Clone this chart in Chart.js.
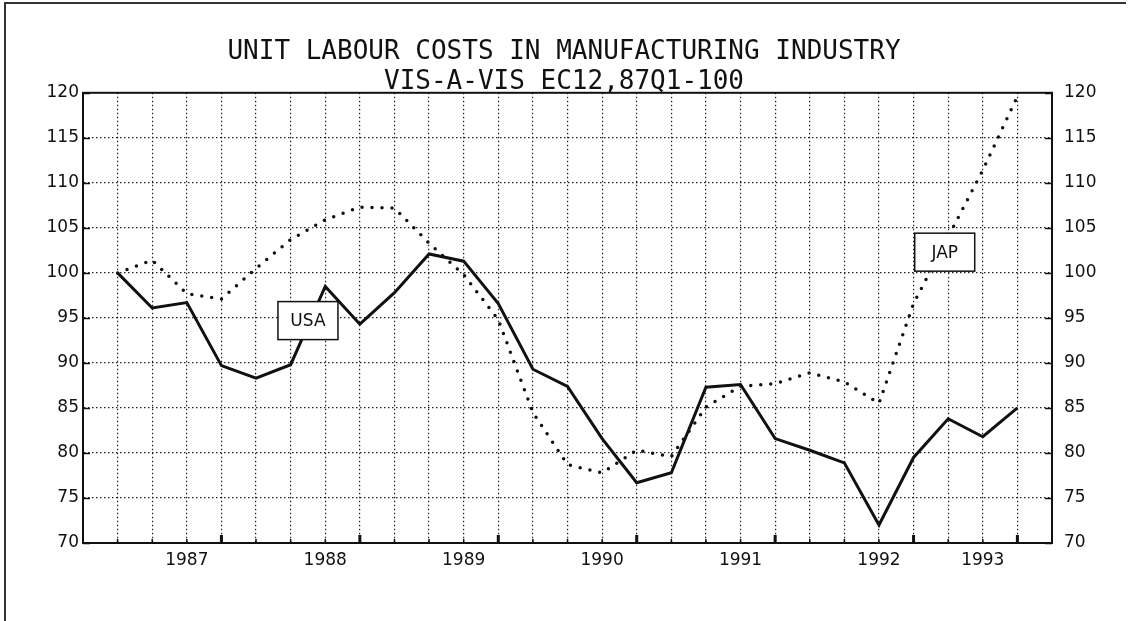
<!DOCTYPE html>
<html>
<head>
<meta charset="utf-8">
<script src="https://cdn.jsdelivr.net/npm/chart.js@4"></script>
<style>
  body { margin: 0; background: #fff; }
  #wrap { position: relative; width: 1128px; height: 621px; }
  .edge { position: absolute; background: #333; pointer-events: none; }
</style>
</head>
<body>
<div id="wrap">
  <canvas id="ulc"></canvas>
  <div class="edge" style="left:4px;top:2px;width:2px;height:619px;"></div>
  <div class="edge" style="left:4px;top:2px;width:1122px;height:2px;"></div>
</div>
<script>
// quarterly series, 87Q1 .. 93Q3 (87Q1 = 100)
const quarters = [
  "87Q1","87Q2","87Q3","87Q4","88Q1","88Q2","88Q3","88Q4",
  "89Q1","89Q2","89Q3","89Q4","90Q1","90Q2","90Q3","90Q4",
  "91Q1","91Q2","91Q3","91Q4","92Q1","92Q2","92Q3","92Q4",
  "93Q1","93Q2","93Q3"
];
const usa = [100.0, 96.1, 96.7, 89.7, 88.3, 89.8, 98.5, 94.3, 97.8, 102.1, 101.3, 96.6, 89.3, 87.4,
             81.6, 76.7, 77.8, 87.3, 87.6, 81.6, 80.3, 78.9, 72.0, 79.5, 83.8, 81.8, 85.0];
const jap = [100.0, 101.4, 97.7, 97.1, 100.5, 103.7, 105.9, 107.3, 107.2, 103.3, 99.8, 94.8, 84.5, 78.7,
             77.8, 80.3, 79.6, 85.1, 87.4, 87.7, 88.9, 87.9, 85.5, 96.6, 104.0, 111.4, 119.6];

// x axis: year labels and the heavy year ticks, given as quarter index
const yearLabels = ["1987", "1988", "1989", "1990", "1991", "1992", "1993"];
const yearLabelAt = [2, 6, 10, 14, 18, 22, 25];
const yearTickAt = [3, 7, 11, 15, 19, 23, 26];
const yTicks = [70, 75, 80, 85, 90, 95, 100, 105, 110, 115, 120];

// series tags (text, quarter index, value)
const tags = [
  { text: "USA", q: 5.5, v: 94.7 },
  { text: "JAP", q: 23.9, v: 102.3 }
];

const FONT = "'DejaVu Sans', sans-serif";

const extras = {
  id: "extras",
  afterDatasetsDraw(chart) {
    const ctx = chart.ctx;
    const a = chart.chartArea;
    const x = chart.scales.x, y = chart.scales.y;
    ctx.save();
    ctx.strokeStyle = "#111";
    ctx.setLineDash([]);

    // inward ticks on both value axes
    ctx.lineWidth = 1.5;
    yTicks.forEach(v => {
      const py = Math.round(y.getPixelForValue(v)) + 0.5;
      ctx.beginPath();
      ctx.moveTo(a.left, py); ctx.lineTo(a.left + 7, py);
      ctx.moveTo(a.right - 7, py); ctx.lineTo(a.right, py);
      ctx.stroke();
    });
    // small quarter ticks + heavy year ticks
    quarters.forEach((q, i) => {
      const px = x.getPixelForValue(i);
      const heavy = yearTickAt.includes(i);
      ctx.lineWidth = heavy ? 3 : 1.5;
      ctx.beginPath();
      ctx.moveTo(px, a.bottom);
      ctx.lineTo(px, a.bottom - (heavy ? 8 : 4));
      ctx.stroke();
    });

    // plot frame
    ctx.lineWidth = 2;
    ctx.strokeRect(a.left, a.top, a.right - a.left, a.bottom - a.top);

    // tag boxes
    ctx.font = "17px " + FONT;
    ctx.textAlign = "center";
    ctx.textBaseline = "middle";
    tags.forEach(t => {
      const cx = x.getPixelForValue(t.q), cy = y.getPixelForValue(t.v);
      const w = 60, h = 38;
      ctx.fillStyle = "#fff";
      ctx.fillRect(cx - w / 2, cy - h / 2, w, h);
      ctx.lineWidth = 1.5;
      ctx.strokeRect(cx - w / 2, cy - h / 2, w, h);
      ctx.fillStyle = "#111";
      ctx.fillText(t.text, cx, cy + 1);
    });
    ctx.restore();
  }
};

const gridDots = {
  color: "#222",
  lineWidth: 1.2,
  tickLength: 0,
  drawTicks: false
};

new Chart(document.getElementById("ulc"), {
  type: "line",
  data: {
    datasets: [
      {
        label: "USA",
        data: usa.map((v, i) => ({ x: i, y: v })),
        borderColor: "#111",
        borderWidth: 3,
        pointRadius: 0,
        tension: 0
      },
      {
        label: "JAP",
        data: jap.map((v, i) => ({ x: i, y: v })),
        borderColor: "#111",
        borderWidth: 3.5,
        borderDash: [0, 10],
        borderCapStyle: "round",
        pointRadius: 0,
        tension: 0
      }
    ]
  },
  options: {
    responsive: true,
    maintainAspectRatio: false,
    animation: false,
    layout: { padding: 0 },
    plugins: {
      legend: { display: false },
      tooltip: { enabled: false },
      title: {
        display: true,
        text: ["UNIT LABOUR COSTS IN MANUFACTURING INDUSTRY", "VIS-A-VIS EC12,87Q1-100"],
        color: "#111",
        font: { family: "'DejaVu Sans Mono', monospace", size: 26, weight: "normal", lineHeight: 1.15 },
        padding: { top: 37, bottom: -4 }
      }
    },
    scales: {
      x: {
        type: "linear",
        min: -1,
        max: 27,
        afterBuildTicks: s => {
          s.ticks = [];
          for (let i = -1; i <= 27; i++) s.ticks.push({ value: i });
        },
        afterFit: s => { s.height = 78; },
        ticks: {
          autoSkip: false,
          maxRotation: 0,
          padding: 7,
          color: "#111",
          font: { family: FONT, size: 17 },
          callback: v => {
            const k = yearLabelAt.indexOf(v);
            return k >= 0 ? yearLabels[k] : "";
          }
        },
        grid: Object.assign({}, gridDots, {
          color: c => (c.tick && (c.tick.value === -1 || c.tick.value === 27)) ? "rgba(0,0,0,0)" : "#222"
        }),
        border: { display: true, color: "#111", width: 2, dash: [1.5, 2.5] }
      },
      y: {
        position: "left",
        min: 70,
        max: 120,
        afterBuildTicks: s => { s.ticks = yTicks.map(v => ({ value: v })); },
        afterFit: s => { s.width = 83; },
        ticks: { padding: 4, color: "#111", font: { family: FONT, size: 17 } },
        grid: Object.assign({}, gridDots, {
          color: c => (c.tick && (c.tick.value === 70 || c.tick.value === 120)) ? "rgba(0,0,0,0)" : "#222"
        }),
        border: { display: true, color: "#111", width: 2, dash: [1.5, 2.5] }
      },
      y2: {
        position: "right",
        min: 70,
        max: 120,
        afterBuildTicks: s => { s.ticks = yTicks.map(v => ({ value: v })); },
        afterFit: s => { s.width = 76; },
        ticks: { padding: 12, color: "#111", font: { family: FONT, size: 17 } },
        grid: { display: false, drawTicks: false },
        border: { display: false }
      }
    }
  },
  plugins: [extras]
});
</script>
</body>
</html>
